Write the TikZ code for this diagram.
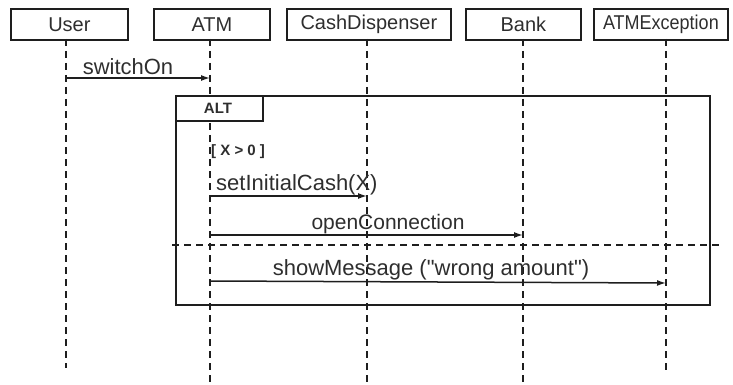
\documentclass[tikz,border=0pt]{standalone}
\usepackage{fontspec}
\setmainfont{Liberation Sans}
\usetikzlibrary{arrows.meta}
\definecolor{ink}{HTML}{1E1E1E}
\definecolor{txt}{HTML}{2E2E2E}
% straight double quote glyph, set without the TeX ligature mapping
\newcommand\straightdq{\XeTeXglyph\XeTeXcharglyph"22\relax}
\begin{document}
\begin{tikzpicture}[x=1pt,y=-1pt,
  obj/.style={draw=ink, line width=1.8pt, minimum height=31pt, inner sep=0pt,
    anchor=north west, text=txt, font=\fontsize{20}{20}\selectfont},
  life/.style={draw=ink, line width=1.6pt, dash pattern=on 7pt off 5pt},
  msg/.style={draw=ink, line width=1.5pt, -{Latex[length=9pt,width=6pt]}},
  lbl/.style={anchor=base, inner sep=0pt, text=txt, font=\fontsize{22}{22}\selectfont},
  frm/.style={draw=ink, line width=1.8pt},
  small/.style={inner sep=0pt, text=txt, font=\bfseries\fontsize{15}{15}\selectfont}]
\useasboundingbox (0,0) rectangle (733,385);

% participants
\node[obj, minimum width=117pt] (user) at (10,8) {User};
\node[obj, minimum width=116pt] (atm) at (153,8) {ATM};
\node[obj, minimum width=164pt] (cash) at (286,8) {CashDispenser};
\node[obj, minimum width=115pt] (bank) at (465,8) {Bank};
\node[obj, minimum width=134pt] (exc) at (593,8) {\scalebox{0.9}[1]{ATMException}};

% lifeline ends
\coordinate (uT) at (66,39);   \coordinate (uB) at (66,368);
\coordinate (aT) at (210,39);  \coordinate (aB) at (210,383);
\coordinate (cT) at (367,39);  \coordinate (cB) at (367,385);
\coordinate (bT) at (523,39);  \coordinate (bB) at (523,385);
\coordinate (eT) at (666,39);  \coordinate (eB) at (666,372);

% combined fragment frame
\node[frm, draw, anchor=north west, minimum width=534pt, minimum height=209pt, inner sep=0pt] (alt) at (175,95) {};
\coordinate (sepL) at (172,245);
\coordinate (sepR) at (722,245);
\draw[life] (sepL) -- (sepR);

% lifelines
\draw[life] (uT) -- (uB);
\draw[life] (aT) -- (aB);
\draw[life] (cT) -- (cB);
\draw[life] (bT) -- (bB);
\draw[life] (eT) -- (eB);

% operator tab and guard
\node[frm, draw, fill=white, anchor=north west, minimum width=87pt, minimum height=25pt, inner sep=0pt] (tab) at (175,95) {};
\node[small] (altlbl) at (218,108) {ALT};
\node[small, anchor=west] (guard) at (211,152) {[ X > 0 ]};

% messages
\coordinate (m1s) at (66,78);   \coordinate (m1e) at (210,78);
\draw[msg] (m1s) -- (m1e);
\node[lbl] (m1) at (128,75) {switchOn};

\coordinate (m2s) at (210,196); \coordinate (m2e) at (367,196);
\draw[msg] (m2s) -- (m2e);
\node[lbl, anchor=base west] (m2) at (216,190) {setInitialCash(X)};

\coordinate (m3s) at (210,235); \coordinate (m3e) at (523,235);
\draw[msg] (m3s) -- (m3e);
\node[lbl, font=\fontsize{21}{21}\selectfont] (m3) at (388,229) {openConnection};

\coordinate (m4s) at (210,281); \coordinate (m4e) at (666,283);
\draw[msg] (m4s) -- (m4e);
\node[lbl] (m4) at (431,275) {showMessage (\straightdq wrong amount\straightdq)};
\end{tikzpicture}
\end{document}
